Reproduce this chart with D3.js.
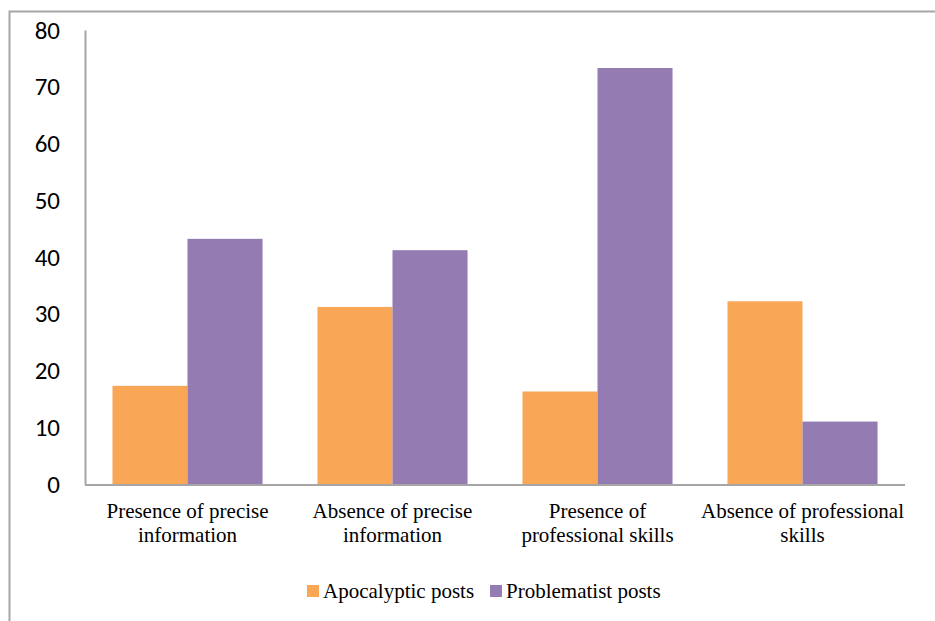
<!DOCTYPE html>
<html>
<head>
<meta charset="utf-8">
<script src="https://cdn.jsdelivr.net/npm/d3@7/dist/d3.min.js"></script>
<style>
  html, body { margin: 0; padding: 0; background: #fff; }
  svg { display: block; }
</style>
</head>
<body>
<div id="chart"></div>
<script>
// Post types by category (percent of posts)
const categories = [
  ["Presence of precise", "information"],
  ["Absence of precise", "information"],
  ["Presence of", "professional skills"],
  ["Absence of professional", "skills"]
];
const seriesNames = ["Apocalyptic posts", "Problematist posts"];
const apocalyptic = [17.3, 31.2, 16.3, 32.2];
const problematist = [43.2, 41.2, 73.3, 11];
const yTicks = [0, 10, 20, 30, 40, 50, 60, 70, 80];
const colors = ["#f9a757", "#947bb1"];

const W = 935, H = 621;
const plot = { left: 85, right: 905, top: 30, bottom: 484 };

const svg = d3.select("#chart").append("svg")
  .attr("width", W).attr("height", H);

// outer frame (top and left edges visible)
svg.append("path")
  .attr("d", `M9.5,${H} V11.5 H${W}`)
  .attr("fill", "none").attr("stroke", "#a6a6a6").attr("stroke-width", 2);

const x0 = d3.scaleBand()
  .domain(d3.range(categories.length))
  .range([plot.left, plot.right])
  .paddingInner(0.268).paddingOuter(0.134);
const x1 = d3.scaleBand()
  .domain(d3.range(seriesNames.length))
  .range([0, x0.bandwidth()]);
const y = d3.scaleLinear().domain([0, 80]).range([plot.bottom, plot.top]);

// bars
const data = categories.map((c, i) => [apocalyptic[i], problematist[i]]);
const groups = svg.append("g").selectAll("g").data(data).join("g")
  .attr("transform", (d, i) => `translate(${x0(i)},0)`);
groups.selectAll("rect").data(d => d).join("rect")
  .attr("x", (d, j) => x1(j))
  .attr("width", x1.bandwidth())
  .attr("y", d => y(d))
  .attr("height", d => y(0) - y(d))
  .attr("fill", (d, j) => colors[j]);

// y axis
const yAxis = svg.append("g")
  .attr("transform", `translate(${plot.left},0)`)
  .call(d3.axisLeft(y).tickValues(yTicks).tickSize(0).tickPadding(25));
yAxis.select(".domain").attr("stroke", "#a6a6a6").attr("stroke-width", 2);
yAxis.selectAll("text")
  .attr("font-family", "Carlito, Lato, 'Open Sans', sans-serif")
  .attr("font-size", 25).attr("fill", "#000");

// x axis line
svg.append("line")
  .attr("x1", plot.left).attr("x2", plot.right)
  .attr("y1", plot.bottom + 1).attr("y2", plot.bottom + 1)
  .attr("stroke", "#a6a6a6").attr("stroke-width", 2);

// category labels
const catLabels = svg.append("g").selectAll("text").data(categories).join("text")
  .attr("x", (d, i) => x0(i) + x0.bandwidth() / 2)
  .attr("y", 518)
  .attr("text-anchor", "middle")
  .attr("font-family", "'Liberation Serif', 'Times New Roman', serif")
  .attr("font-size", 21).attr("fill", "#000");
catLabels.selectAll("tspan").data(d => d).join("tspan")
  .attr("x", function () { return d3.select(this.parentNode).attr("x"); })
  .attr("dy", (d, k) => k === 0 ? 0 : 24)
  .text(d => d);

// legend
const legendX = [307, 490];
const legend = svg.append("g").selectAll("g").data(seriesNames).join("g")
  .attr("transform", (d, i) => `translate(${legendX[i]},585)`);
legend.append("rect").attr("width", 12).attr("height", 12)
  .attr("fill", (d, i) => colors[i]);
legend.append("text").attr("x", 16).attr("y", 13)
  .attr("font-family", "'Liberation Serif', 'Times New Roman', serif")
  .attr("font-size", 21).attr("fill", "#000")
  .text(d => d);
</script>
</body>
</html>
